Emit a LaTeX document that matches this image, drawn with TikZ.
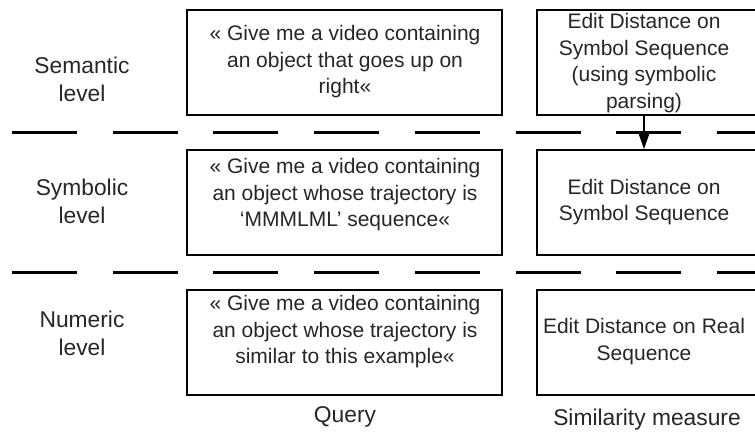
\documentclass[tikz,border=0pt]{standalone}
\usepackage{fontspec}
\setmainfont{Liberation Sans}
\usetikzlibrary{positioning,arrows.meta}

\begin{document}
\begin{tikzpicture}[x=1pt, y=-1pt]
\tikzstyle{box}=[draw, rectangle, line width = 1.6pt, inner sep = 0 pt, minimum height = 105pt]
\tikzstyle{txt}=[align=center, inner sep = 0 pt, text = black!85, font=\fontsize{21}{26.5}\selectfont]
\tikzstyle{lbl}=[txt, font=\fontsize{22.8}{28}\selectfont]
\tikzstyle{sep}=[line width = 3.5pt, dash pattern = on 65pt off 35.7pt]
\def\gap{33.4pt}

\useasboundingbox (0,0) rectangle (755,434);

% boxes
\node[box, minimum width = 315pt] (qsem) at (344.5,62.5) {};
\node[box, minimum width = 315pt, below = \gap of qsem] (qsym) {};
\node[box, minimum width = 315pt, below = \gap of qsym] (qnum) {};
\node[box, minimum width = 228pt, right = \gap of qsem] (ssem) {};
\node[box, minimum width = 228pt, right = \gap of qsym] (ssym) {};
\node[box, minimum width = 228pt, right = \gap of qnum] (snum) {};

% level separators
\draw[sep] (12,132.5) -- (770,132.5);
\draw[sep] (12,272.5) -- (770,272.5);

% levels
\node[lbl] (lsem) at (82,79) {Semantic\\level};
\node[lbl] (lsym) at (82,201.5) {Symbolic\\level};
\node[lbl] (lnum) at (82,333.5) {Numeric\\level};

% query texts
\node[txt] (tqsem) at (345,61.7) {« Give me a video containing\\an object that goes up on\\right«};
\node[txt] (tqsym) at (345,194.7) {« Give me a video containing\\an object whose trajectory is\\‘MMMLML’ sequence«};
\node[txt] (tqnum) at (345,331.7) {« Give me a video containing\\an object whose trajectory is\\similar to this example«};

% similarity texts
\node[txt] (tssem) at (644,63) {Edit Distance on\\Symbol Sequence\\(using symbolic\\parsing)};
\node[txt] (tssym) at (644,202) {Edit Distance on\\Symbol Sequence};
\node[txt] (tsnum) at (644,341.5) {Edit Distance on Real\\Sequence};

\draw[line width = 1.6pt, -{Triangle[length=15pt, width=10pt]}] (tssem |- ssem.south) -- (tssem |- ssym.north);

% columns
\node[lbl] (cq) at (345,417) {Query};
\node[lbl] (cs) at (647,420) {Similarity measure};
\end{tikzpicture}
\end{document}
